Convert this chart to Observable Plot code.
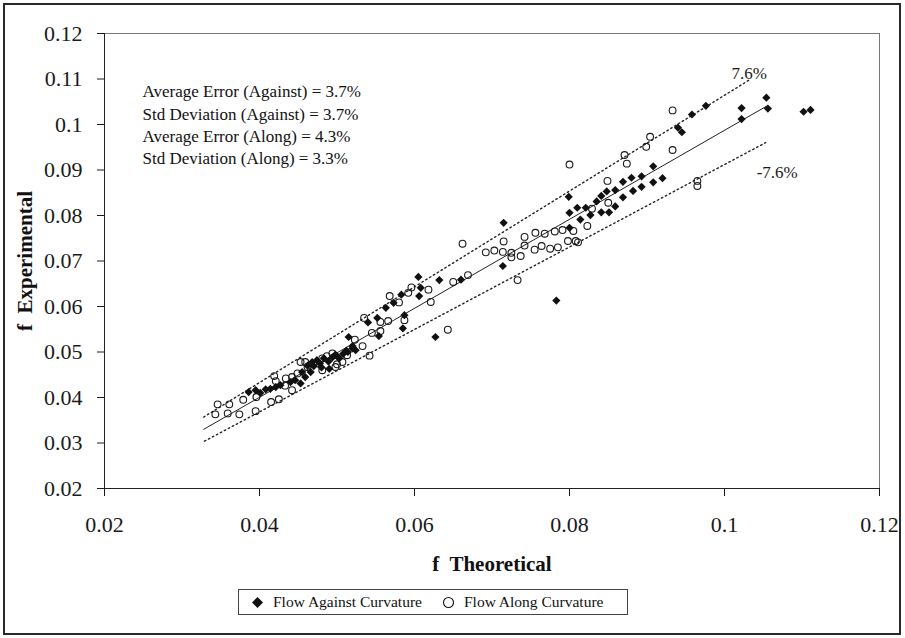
<!DOCTYPE html>
<html><head><meta charset="utf-8">
<script src="https://cdn.jsdelivr.net/npm/d3@7"></script>
<script src="https://cdn.jsdelivr.net/npm/@observablehq/plot@0.6"></script>
<style>
body{margin:0;background:#fff;}
#wrap{position:relative;width:905px;height:638px;overflow:hidden;background:#fff;font-family:'Liberation Serif','Times New Roman',serif;}
#frame{position:absolute;left:3px;top:3px;width:898px;height:632px;border:2px solid #2a2a2a;box-sizing:border-box;pointer-events:none;}
#legend{position:absolute;left:238px;top:589px;width:390px;height:26px;border:1px solid #444;box-sizing:border-box;display:flex;align-items:center;font-size:15.5px;color:#111;background:#fff;}
#legend .item{display:flex;align-items:center;}
#legend svg{margin-right:9px;}
</style></head>
<body>
<div id="wrap">
  <div id="chart"></div>
  <div id="legend"></div>
  <div id="frame"></div>
</div>
<script>
// Flow Against Curvature (filled diamonds)
const againstX = [0.1054,0.1056,0.1022,0.1022,0.1102,0.1111,0.0976,0.0958,0.0940,0.0945,
  0.0908,0.0893,0.0893,0.0908,0.0920,0.0715,0.0714,0.0783,0.0799,0.0800,
  0.0800,0.0810,0.0814,0.0821,0.0827,0.0835,0.0841,0.0848,0.0841,0.0851,
  0.0859,0.0859,0.0869,0.0869,0.0880,0.0882,0.0605,0.0632,0.0608,0.0606,
  0.0660,0.0583,0.0573,0.0563,0.0552,0.0540,0.0587,0.0585,0.0627,0.0554,
  0.0515,0.0386,0.0395,0.0401,0.0408,0.0414,0.0421,0.0427,0.0440,0.0446,
  0.0453,0.0459,0.0455,0.0466,0.0468,0.0474,0.0478,0.0483,0.0489,0.0494,
  0.0498,0.0503,0.0508,0.0512,0.0520,0.0480,0.0470,0.0462,0.0490,0.0514,
  0.0520,0.0524,0.0501];
const againstY = [0.1059,0.1035,0.1036,0.1012,0.1028,0.1032,0.1041,0.1022,0.0993,0.0983,
  0.0908,0.0886,0.0863,0.0873,0.0882,0.0784,0.0689,0.0613,0.0841,0.0806,
  0.0773,0.0817,0.0791,0.0817,0.0801,0.0831,0.0843,0.0853,0.0807,0.0807,
  0.0856,0.0820,0.0874,0.0840,0.0883,0.0854,0.0665,0.0658,0.0641,0.0623,
  0.0659,0.0626,0.0608,0.0597,0.0575,0.0565,0.0581,0.0552,0.0533,0.0535,
  0.0533,0.0412,0.0416,0.0410,0.0418,0.0419,0.0423,0.0427,0.0434,0.0438,
  0.0431,0.0445,0.0456,0.0456,0.0478,0.0482,0.0475,0.0486,0.0479,0.0488,
  0.0494,0.0486,0.0496,0.0503,0.0508,0.0466,0.0469,0.0470,0.0463,0.0500,
  0.0513,0.0504,0.0489];

// Flow Along Curvature (open circles)
const alongX = [0.0933,0.0904,0.0899,0.0933,0.0965,0.0965,0.0800,0.0871,0.0874,0.0849,
  0.0850,0.0829,0.0823,0.0805,0.0798,0.0808,0.0811,0.0791,0.0781,0.0768,
  0.0756,0.0742,0.0742,0.0715,0.0764,0.0755,0.0775,0.0785,0.0737,0.0725,
  0.0725,0.0714,0.0703,0.0692,0.0733,0.0662,0.0669,0.0650,0.0618,0.0596,
  0.0592,0.0568,0.0580,0.0621,0.0556,0.0566,0.0535,0.0587,0.0545,0.0556,
  0.0643,0.0523,0.0533,0.0542,0.0346,0.0361,0.0379,0.0343,0.0359,0.0374,
  0.0395,0.0396,0.0415,0.0425,0.0419,0.0421,0.0434,0.0433,0.0442,0.0442,
  0.0449,0.0453,0.0459,0.0474,0.0481,0.0487,0.0494,0.0498,0.0481,0.0462,
  0.0500,0.0507,0.0513];
const alongY = [0.1031,0.0973,0.0951,0.0944,0.0876,0.0865,0.0912,0.0933,0.0914,0.0876,
  0.0828,0.0815,0.0777,0.0766,0.0744,0.0744,0.0741,0.0768,0.0765,0.0760,
  0.0762,0.0753,0.0734,0.0743,0.0733,0.0725,0.0727,0.0730,0.0711,0.0708,
  0.0718,0.0720,0.0723,0.0719,0.0658,0.0738,0.0669,0.0654,0.0637,0.0642,
  0.0630,0.0623,0.0609,0.0610,0.0566,0.0568,0.0575,0.0570,0.0542,0.0546,
  0.0549,0.0527,0.0513,0.0492,0.0385,0.0385,0.0395,0.0363,0.0365,0.0363,
  0.0370,0.0401,0.0390,0.0396,0.0447,0.0436,0.0442,0.0426,0.0416,0.0445,
  0.0453,0.0478,0.0478,0.0475,0.0486,0.0491,0.0497,0.0467,0.0460,0.0467,
  0.0473,0.0478,0.0493];

// Reference lines (endpoints)
const fitLineX = [0.0328, 0.1054];
const fitLineY = [0.0330, 0.1040];
const upperBandX = [0.0328, 0.1034];
const upperBandY = [0.0357, 0.1100];
const lowerBandX = [0.0329, 0.1053];
const lowerBandY = [0.0304, 0.0960];

const bandLabels = ["7.6%", "-7.6%"];
const bandLabelX = [0.1032, 0.1068];
const bandLabelY = [0.1113, 0.0895];

const statsLines = [
  "Average Error (Against) = 3.7%",
  "Std Deviation (Against) = 3.7%",
  "Average Error (Along) = 4.3%",
  "Std Deviation (Along) = 3.3%"
];

const xTicks = [0.02, 0.04, 0.06, 0.08, 0.1, 0.12];
const xTickLabels = ["0.02", "0.04", "0.06", "0.08", "0.1", "0.12"];
const yTicks = [0.02, 0.03, 0.04, 0.05, 0.06, 0.07, 0.08, 0.09, 0.1, 0.11, 0.12];
const yTickLabels = ["0.02", "0.03", "0.04", "0.05", "0.06", "0.07", "0.08", "0.09", "0.1", "0.11", "0.12"];

const seriesNames = ["Flow Against Curvature", "Flow Along Curvature"];
const xTitle = "f  Theoretical";
const yTitle = "f  Experimental";

const against = againstX.map((x, i) => ({x, y: againstY[i]}));
const along = alongX.map((x, i) => ({x, y: alongY[i]}));
const mk = (xs, ys) => xs.map((x, i) => ({x, y: ys[i]}));
const labels = bandLabels.map((t, i) => ({t, x: bandLabelX[i], y: bandLabelY[i]}));

const chart = Plot.plot({
  width: 905, height: 638,
  marginLeft: 104, marginRight: 26, marginTop: 33, marginBottom: 150,
  style: {fontFamily: "'Liberation Serif','Times New Roman',serif", fontSize: "22px", color: "#1a1a1a", background: "transparent", overflow: "visible"},
  x: {domain: [0.02, 0.12]},
  y: {domain: [0.02, 0.12]},
  marks: [
    Plot.frame({stroke: "#777", strokeWidth: 1}),
    Plot.axisX({ticks: xTicks, tickFormat: d => xTickLabels[xTicks.indexOf(d)], tickSize: 8, tickPadding: 20, label: null, fontSize: 22}),
    Plot.axisY({ticks: yTicks, tickFormat: d => yTickLabels[yTicks.indexOf(d)], tickSize: 7, tickPadding: 15, label: null, fontSize: 22}),
    Plot.ruleX([0.02], {stroke: "#222"}),
    Plot.ruleY([0.02], {stroke: "#222"}),
    Plot.line(mk(upperBandX, upperBandY), {x: "x", y: "y", stroke: "#222", strokeWidth: 1.4, strokeDasharray: "1.5,3"}),
    Plot.line(mk(lowerBandX, lowerBandY), {x: "x", y: "y", stroke: "#222", strokeWidth: 1.4, strokeDasharray: "1.5,3"}),
    Plot.line(mk(fitLineX, fitLineY), {x: "x", y: "y", stroke: "#222", strokeWidth: 1}),
    Plot.dot(along, {x: "x", y: "y", r: 3.4, stroke: "#1a1a1a", strokeWidth: 1.1, fill: "none"}),
    Plot.dot(against, {x: "x", y: "y", symbol: "diamond2", r: 3.7, fill: "#111", stroke: "none"}),
    Plot.text(labels, {x: "x", y: "y", text: "t", fontSize: 17, fill: "#1a1a1a"}),
    Plot.text([statsLines.join("\n")], {text: d => d, frameAnchor: "top-left", dx: 38, dy: 90, textAnchor: "start", lineAnchor: "middle", lineHeight: 1.31, fontSize: 17, fill: "#111"}),
    Plot.text([xTitle], {text: d => d, frameAnchor: "bottom", dy: 82, fontSize: 21, fontWeight: "bold", fill: "#111"}),
    Plot.text([yTitle], {text: d => d, frameAnchor: "left", dx: -79, rotate: -90, textAnchor: "middle", fontSize: 21, fontWeight: "bold", fill: "#111"})
  ]
});
chart.querySelectorAll("text").forEach(t => t.setAttribute("xml:space", "preserve"));
document.getElementById("chart").appendChild(chart);

const legend = document.getElementById("legend");
const symbols = [
  '<svg width="13" height="13" viewBox="-6.5 -6.5 13 13"><path d="M0,-5.5L5.5,0L0,5.5L-5.5,0Z" fill="#111"/></svg>',
  '<svg width="13" height="13" viewBox="-6.5 -6.5 13 13"><circle r="5" fill="none" stroke="#111" stroke-width="1.1"/></svg>'
];
seriesNames.forEach((name, i) => {
  const item = document.createElement("div");
  item.className = "item";
  item.style.marginLeft = i === 0 ? "12px" : "20px";
  item.innerHTML = symbols[i] + "<span>" + name + "</span>";
  legend.appendChild(item);
});
</script>
</body></html>
